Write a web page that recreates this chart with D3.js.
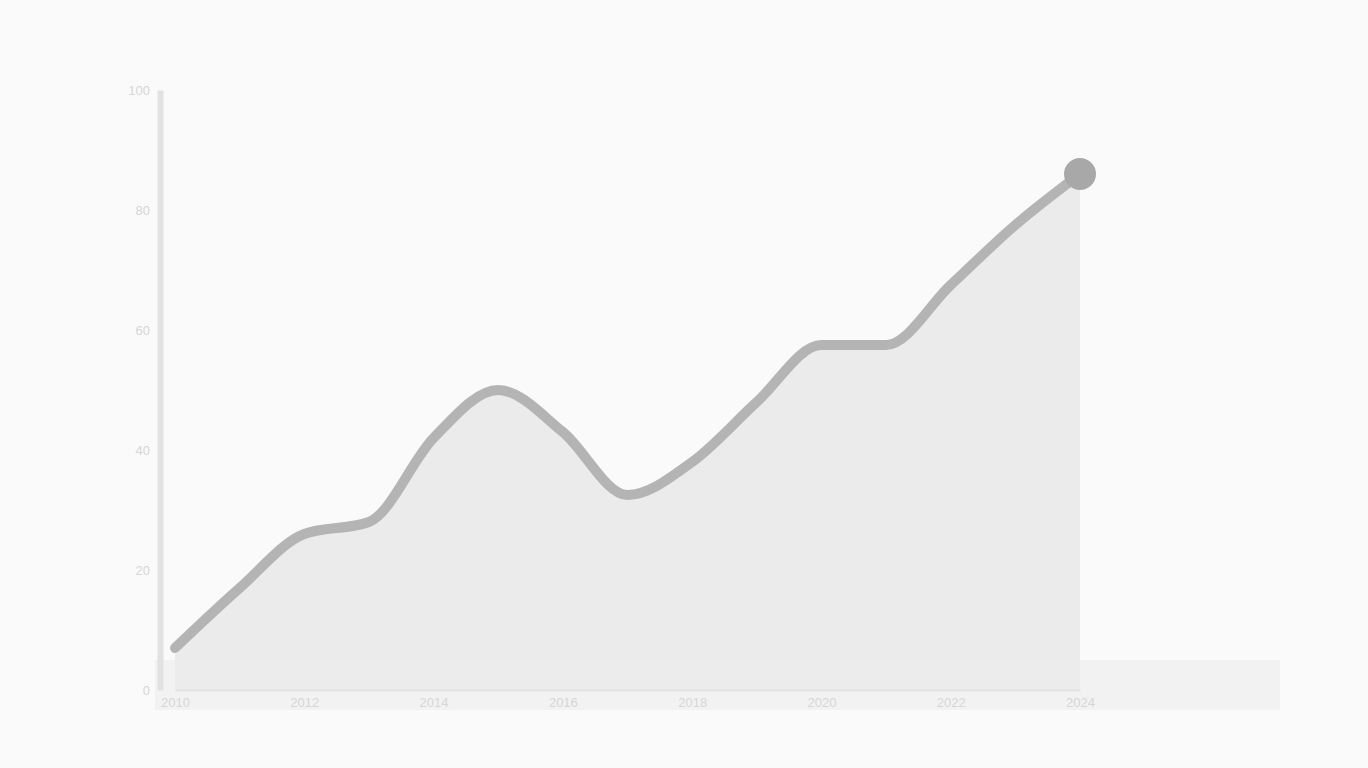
<!DOCTYPE html>
<html>
<head>
<meta charset="utf-8">
<script src="https://cdn.jsdelivr.net/npm/d3@7"></script>
<style>
  html, body { margin: 0; padding: 0; background: #fafafa; }
  svg { display: block; font-family: "Noto Sans", sans-serif; }
</style>
</head>
<body>
<svg id="chart" width="1368" height="768"></svg>
<script>
// values
var years = [2010, 2011, 2012, 2013, 2014, 2015, 2016, 2017, 2018, 2019, 2020, 2021, 2022, 2023, 2024];
var values = [7, 17, 26, 28, 42, 50, 43, 32.5, 38, 48, 57.5, 57.5, 67.5, 77.5, 86];
var yTicks = [0, 20, 40, 60, 80, 100];

var drawChart = function () {
    var svg = d3.select("#chart"),
        cs = {
            pallette: {
                area: "#ebebeb",
                line: "#b4b4b4",
                point: "#a8a8a8",
                axis: "#e2e2e2",
                text: "#d6d6d6"
            },
            left: 175, right: 1080, top: 90, bottom: 690
        };

    var ds = years.map(function (y, i) { return { dim: y, metric: values[i] }; });

    cs.x = d3.scaleLinear().domain(d3.extent(years)).range([cs.left, cs.right]);
    cs.y = d3.scaleLinear().domain([0, 100]).range([cs.bottom, cs.top]);

    // area under line
    var area = d3.area()
        .x(function (d) { return cs.x(d.dim); })
        .y0(cs.bottom)
        .y1(function (d) { return cs.y(d.metric); })
        .curve(d3.curveMonotoneX);

    svg.append("path")
        .datum(ds)
        .attr("fill", cs.pallette.area)
        .attr("d", area);

    // bottom band under plot
    svg.append("rect")
        .attr("x", cs.left - 20).attr("y", cs.bottom - 30)
        .attr("width", 1300 - cs.left).attr("height", 50)
        .attr("fill", "#ececec").attr("opacity", 0.6);

    var line = d3.line()
        .x(function (d) { return cs.x(d.dim); })
        .y(function (d) { return cs.y(d.metric); })
        .curve(d3.curveMonotoneX);

    svg.append("path")
        .datum(ds)
        .attr("fill", "none")
        .attr("stroke", cs.pallette.line)
        .attr("stroke-width", 10)
        .attr("stroke-linecap", "round")
        .attr("stroke-linejoin", "round")
        .attr("d", line);

    var last = ds[ds.length - 1];
    svg.append("circle")
        .attr("cx", cs.x(last.dim))
        .attr("cy", cs.y(last.metric))
        .attr("r", 16)
        .attr("fill", cs.pallette.point);

    // axes
    var yAxis = d3.axisLeft(cs.y).tickValues(yTicks).tickSize(0).tickPadding(10);
    var gy = svg.append("g").attr("transform", "translate(" + (cs.left - 15) + ",0)").call(yAxis);
    gy.select(".domain").attr("stroke", cs.pallette.axis).attr("stroke-width", 6);
    gy.selectAll("text").attr("fill", cs.pallette.text).attr("font-size", 13);

    var xAxis = d3.axisBottom(cs.x).tickValues(years.filter(function (y, i) { return i % 2 === 0; }))
        .tickFormat(d3.format("d")).tickSize(0).tickPadding(8);
    var gx = svg.append("g").attr("transform", "translate(0," + cs.bottom + ")").call(xAxis);
    gx.select(".domain").attr("stroke", cs.pallette.axis).attr("stroke-width", 2);
    gx.selectAll("text").attr("fill", cs.pallette.text).attr("font-size", 13);
};

drawChart();
</script>
</body>
</html>
